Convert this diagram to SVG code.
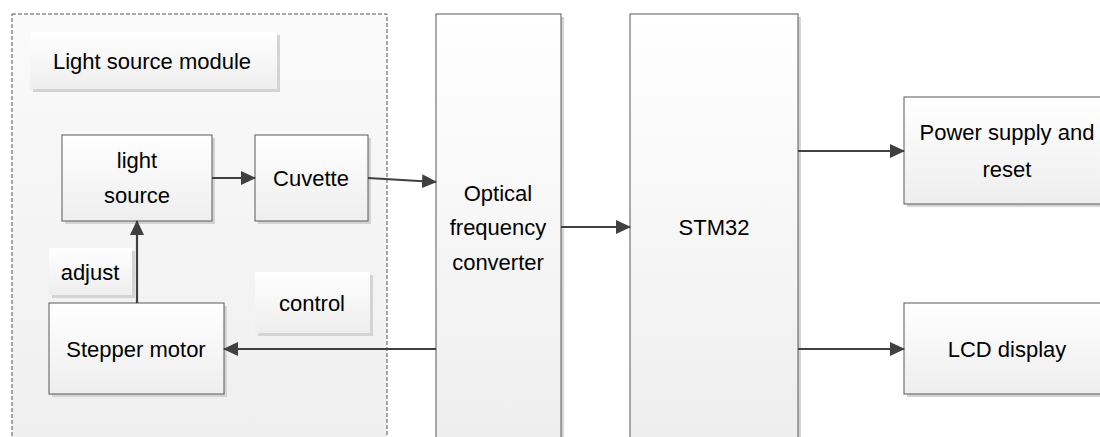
<svg xmlns="http://www.w3.org/2000/svg" width="1100" height="437" viewBox="0 0 1100 437">
<defs>
<linearGradient id="g" x1="0" y1="0" x2="0" y2="1"><stop offset="0" stop-color="#ffffff"/><stop offset="1" stop-color="#eeeeee"/></linearGradient>
<linearGradient id="gc" x1="0" y1="0" x2="0" y2="1"><stop offset="0" stop-color="#fafafa"/><stop offset="1" stop-color="#efefef"/></linearGradient>
<marker id="ah" markerWidth="15" markerHeight="14" refX="14" refY="7" orient="auto" markerUnits="userSpaceOnUse"><path d="M0,0 L15,7 L0,14 Z" fill="#404040"/></marker>
</defs>
<style>
.box{fill:url(#g);stroke:#595959;stroke-width:1}
.lbl{fill:url(#g);stroke:none}
.sh{fill:#d4d4d4}
.t{font-family:"Liberation Sans",Arial,sans-serif;font-size:22px;fill:#000;text-anchor:middle}
.c{stroke:#404040;stroke-width:2.2;fill:none;marker-end:url(#ah)}
</style>
<rect width="1100" height="437" fill="#ffffff"/>
<g id="module">
<rect x="12" y="14" width="375" height="430" fill="url(#gc)" stroke="#555555" stroke-width="1" stroke-dasharray="4,2"/>
</g>
<g id="module-label">
<rect class="sh" x="33" y="35" width="247" height="57"/>
<rect class="lbl" x="30" y="32" width="247" height="57"/>
<text class="t" x="152" y="69">Light source module</text>
</g>
<g id="light-source">
<rect class="sh" x="65" y="138" width="150" height="86"/>
<rect class="box" x="62" y="135" width="150" height="86"/>
<text class="t" x="137" y="168">light</text>
<text class="t" x="137" y="203">source</text>
</g>
<g id="cuvette">
<rect class="sh" x="258" y="138" width="113" height="86"/>
<rect class="box" x="255" y="135" width="113" height="86"/>
<text class="t" x="311" y="186">Cuvette</text>
</g>
<g id="adjust">
<rect class="sh" x="52" y="251" width="83" height="47"/>
<rect class="lbl" x="49" y="248" width="83" height="47"/>
<text class="t" x="90" y="280">adjust</text>
</g>
<g id="control">
<rect class="sh" x="258" y="275" width="115" height="61"/>
<rect class="lbl" x="255" y="272" width="115" height="61"/>
<text class="t" x="312" y="311">control</text>
</g>
<g id="stepper-motor">
<rect class="sh" x="52" y="306" width="175" height="91"/>
<rect class="box" x="49" y="303" width="175" height="91"/>
<text class="t" x="136" y="357">Stepper motor</text>
</g>
<g id="optical">
<rect class="sh" x="439" y="17" width="125" height="430"/>
<rect class="box" x="436" y="14" width="125" height="430"/>
<text class="t" x="498" y="201">Optical</text>
<text class="t" x="498" y="235">frequency</text>
<text class="t" x="498" y="270">converter</text>
</g>
<g id="stm32">
<rect class="sh" x="633" y="17" width="168" height="430"/>
<rect class="box" x="630" y="14" width="168" height="430"/>
<text class="t" x="714" y="235">STM32</text>
</g>
<g id="power">
<rect class="sh" x="907" y="100" width="210" height="107"/>
<rect class="box" x="904" y="97" width="210" height="107"/>
<text class="t" x="1007" y="140">Power supply and</text>
<text class="t" x="1007" y="177">reset</text>
</g>
<g id="lcd">
<rect class="sh" x="907" y="306" width="210" height="91"/>
<rect class="box" x="904" y="303" width="210" height="91"/>
<text class="t" x="1007" y="357">LCD display</text>
</g>
<g id="connectors">
<line class="c" x1="212" y1="178" x2="255" y2="178"/>
<line class="c" x1="368" y1="178" x2="436" y2="182"/>
<line class="c" x1="561" y1="227" x2="630" y2="227"/>
<line class="c" x1="798" y1="151" x2="904" y2="151"/>
<line class="c" x1="798" y1="349" x2="904" y2="349"/>
<line class="c" x1="436" y1="349" x2="224" y2="349"/>
<line class="c" x1="137" y1="303" x2="137" y2="221"/>
</g>
</svg>
